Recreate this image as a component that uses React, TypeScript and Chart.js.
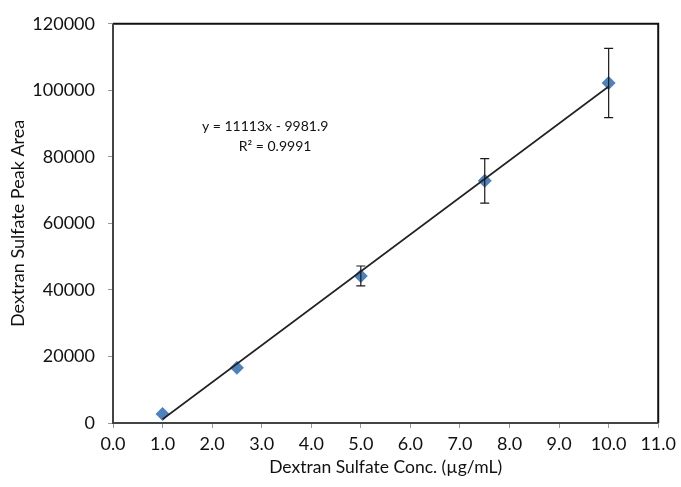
import React, { useEffect, useRef } from "react";
import { Chart, registerables } from "chart.js";

Chart.register(...registerables);

const concentrations = [1.0, 2.5, 5.0, 7.5, 10.0];
const peakAreas = [2700, 16600, 44200, 72800, 102200];
const errors = [0, 0, 3000, 6700, 10400];
const slope = 11113;
const intercept = -9981.9;
const equationLabel = "y = 11113x - 9981.9";
const r2Label = "R² = 0.9991";
const xTitle = "Dextran Sulfate Conc. (µg/mL)";
const yTitle = "Dextran Sulfate Peak Area";

const FONT = "Lato, 'Open Sans', sans-serif";

const errorBarPlugin = {
  id: "errorBars",
  afterDatasetsDraw(chart: any) {
    const { ctx, scales } = chart;
    const xs = scales.x;
    const ys = scales.y;
    ctx.save();
    ctx.strokeStyle = "#1a1a1a";
    ctx.lineWidth = 1.2;
    concentrations.forEach((c, i) => {
      const e = errors[i];
      if (!e) return;
      const px = xs.getPixelForValue(c);
      const top = ys.getPixelForValue(peakAreas[i] + e);
      const bot = ys.getPixelForValue(peakAreas[i] - e);
      ctx.beginPath();
      ctx.moveTo(px, top);
      ctx.lineTo(px, bot);
      ctx.moveTo(px - 4.5, top);
      ctx.lineTo(px + 4.5, top);
      ctx.moveTo(px - 4.5, bot);
      ctx.lineTo(px + 4.5, bot);
      ctx.stroke();
    });
    ctx.restore();
  },
};

const framePlugin = {
  id: "frame",
  afterDraw(chart: any) {
    const { ctx, chartArea, scales } = chart;
    ctx.save();
    ctx.strokeStyle = "#111";
    ctx.lineWidth = 2;
    ctx.beginPath();
    ctx.moveTo(chartArea.left, chartArea.top);
    ctx.lineTo(chartArea.right, chartArea.top);
    ctx.lineTo(chartArea.right, chartArea.bottom);
    ctx.stroke();
    ctx.strokeStyle = "#444";
    ctx.beginPath();
    ctx.moveTo(chartArea.left, chartArea.top);
    ctx.lineTo(chartArea.left, chartArea.bottom);
    ctx.lineTo(chartArea.right, chartArea.bottom);
    ctx.stroke();
    // equation text
    ctx.fillStyle = "#111";
    ctx.font = "14px " + FONT;
    ctx.textAlign = "center";
    ctx.textBaseline = "middle";
    ctx.fillText(equationLabel, scales.x.getPixelForValue(3.07), scales.y.getPixelForValue(89100));
    ctx.fillText(r2Label, scales.x.getPixelForValue(3.27), scales.y.getPixelForValue(83200));
    ctx.restore();
  },
};

export default function App() {
  const ref = useRef<HTMLCanvasElement | null>(null);
  useEffect(() => {
    if (!ref.current) return;
    const trendX = [concentrations[0], concentrations[concentrations.length - 1]];
    const chart = new Chart(ref.current, {
      type: "scatter",
      data: {
        datasets: [
          {
            type: "line",
            label: "Trend",
            data: trendX.map((x) => ({ x, y: slope * x + intercept })),
            borderColor: "#222",
            borderWidth: 1.6,
            pointRadius: 0,
            fill: false,
          },
          {
            label: "Peak Area",
            data: concentrations.map((x, i) => ({ x, y: peakAreas[i] })),
            pointStyle: "rectRot",
            pointRadius: 7,
            backgroundColor: "#4F81BD",
            borderColor: "#4F81BD",
            borderWidth: 0,
          },
        ],
      },
      options: {
        animation: false,
        responsive: true,
        maintainAspectRatio: false,
        layout: { padding: { top: 19, right: 21, left: 0, bottom: 0 } },
        plugins: { legend: { display: false }, tooltip: { enabled: false } },
        scales: {
          x: {
            type: "linear",
            min: 0,
            max: 11,
            afterFit(scale: any) {
              scale.height = 64;
            },
            ticks: {
              stepSize: 1,
              color: "#111",
              font: { family: FONT, size: 18 },
              padding: 5,
              callback: (v: any) => Number(v).toFixed(1),
            },
            grid: { drawOnChartArea: false, tickLength: 5, color: "#999" },
            border: { display: false },
            title: {
              display: true,
              text: xTitle,
              color: "#111",
              font: { family: FONT, size: 17.5 },
              padding: { top: 0, bottom: 9 },
            },
          },
          y: {
            min: 0,
            max: 120000,
            afterFit(scale: any) {
              scale.width = 113;
            },
            ticks: {
              stepSize: 20000,
              color: "#111",
              font: { family: FONT, size: 18 },
              padding: 13,
              callback: (v: any) => String(v),
            },
            grid: { drawOnChartArea: false, tickLength: 5, color: "#999" },
            border: { display: false },
            title: {
              display: true,
              text: yTitle,
              color: "#111",
              font: { family: FONT, size: 18 },
              padding: { top: 7, bottom: 0 },
            },
          },
        },
      },
      plugins: [errorBarPlugin, framePlugin],
    } as any);
    return () => chart.destroy();
  }, []);
  return (
    <div style={{ position: "absolute", left: 0, top: 0, width: 681, height: 487, background: "#fff" }}>
      <canvas ref={ref} />
    </div>
  );
}
